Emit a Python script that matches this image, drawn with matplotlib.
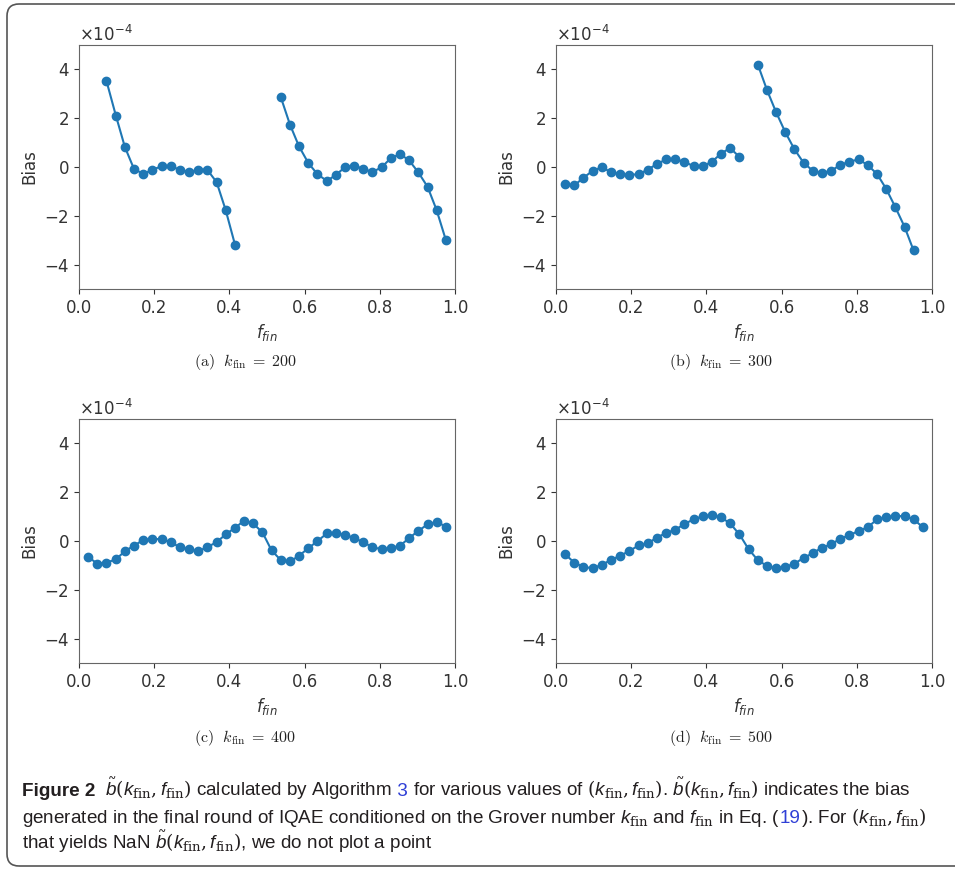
import numpy as np
import matplotlib
matplotlib.use("Agg")
import matplotlib.pyplot as plt
from matplotlib.patches import FancyBboxPatch
from matplotlib.transforms import IdentityTransform

# f_fin grid (NaN bias -> no point drawn)
f_fin = [0.024, 0.049, 0.073, 0.098, 0.122, 0.146, 0.171, 0.195, 0.220, 0.244,
         0.268, 0.293, 0.317, 0.341, 0.366, 0.390, 0.415, 0.439, 0.463, 0.488,
         0.512, 0.537, 0.561, 0.585, 0.610, 0.634, 0.659, 0.683, 0.707, 0.732,
         0.756, 0.780, 0.805, 0.829, 0.854, 0.878, 0.902, 0.927, 0.951, 0.976]

nan = float("nan")
# bias values in units of 1e-4
bias_200 = [nan, nan, 3.53, 2.11, 0.82, -0.07, -0.29, -0.11, 0.03, 0.03,
            -0.11, -0.21, -0.11, -0.11, -0.62, -1.76, -3.19, nan, nan, nan,
            nan, 2.85, 1.74, 0.85, 0.16, -0.29, -0.57, -0.33, -0.01, 0.05,
            -0.07, -0.21, -0.01, 0.36, 0.53, 0.27, -0.21, -0.81, -1.76, -3.01]
bias_300 = [-0.71, -0.75, -0.44, -0.15, -0.01, -0.21, -0.29, -0.33, -0.29, -0.11,
            0.12, 0.31, 0.31, 0.22, 0.03, 0.03, 0.22, 0.55, 0.78, 0.41,
            nan, 4.19, 3.16, 2.26, 1.42, 0.73, 0.16, -0.15, -0.25, -0.15,
            0.08, 0.22, 0.31, 0.08, -0.29, -0.89, -1.63, -2.45, -3.42, nan]
bias_400 = [-0.65, -0.93, -0.89, -0.75, -0.42, -0.19, 0.04, 0.08, 0.08, -0.05,
            -0.25, -0.34, -0.42, -0.25, -0.05, 0.27, 0.54, 0.83, 0.72, 0.35,
            -0.38, -0.79, -0.84, -0.61, -0.29, -0.01, 0.31, 0.31, 0.26, 0.12,
            -0.05, -0.25, -0.34, -0.29, -0.19, 0.12, 0.41, 0.68, 0.78, 0.59]
bias_500 = [-0.54, -0.89, -1.06, -1.12, -0.97, -0.78, -0.60, -0.41, -0.18, -0.10,
            0.14, 0.33, 0.46, 0.69, 0.89, 1.01, 1.05, 0.97, 0.72, 0.27,
            -0.33, -0.79, -1.02, -1.12, -1.06, -0.93, -0.69, -0.50, -0.27, -0.14,
            0.10, 0.23, 0.42, 0.56, 0.89, 0.97, 1.02, 1.02, 0.89, 0.56]

panels = [("a", 200, bias_200), ("b", 300, bias_300),
          ("c", 400, bias_400), ("d", 500, bias_500)]

W, H = 955, 869
fig = plt.figure(figsize=(W / 100, H / 100), dpi=100)

# axes boxes in image pixels: left, top
ax_pos = [(79, 45), (556, 45), (79, 419), (556, 419)]
ax_w, ax_h = 376, 244
sub_pos = [(245, 362), (721, 362), (245, 738), (721, 738)]

for (tag, k, bias), (x0, y0), (sx, sy) in zip(panels, ax_pos, sub_pos):
    ax = fig.add_axes([x0 / W, (H - y0 - ax_h) / H, ax_w / W, ax_h / H])
    ax.plot(f_fin, np.array(bias) * 1e-4, color="#1f77b4", marker="o",
            markersize=6, linewidth=1.5)
    ax.set_xlim(0, 1)
    ax.set_ylim(-5e-4, 5e-4)
    ax.set_yticks([-4e-4, -2e-4, 0, 2e-4, 4e-4])
    ax.ticklabel_format(axis="y", style="sci", scilimits=(0, 0), useMathText=True)
    ax.tick_params(labelsize=12, colors="#333333")
    ax.yaxis.get_offset_text().set_fontsize(12)
    ax.yaxis.get_offset_text().set_color("#333333")
    for sp in ax.spines.values():
        sp.set_color("#666666")
    ax.set_xlabel(r"$f_{fin}$", fontsize=12, color="#333333")
    ax.set_ylabel("Bias", fontsize=12, color="#333333")
    fig.text(sx / W, 1 - sy / H,
             r"$\mathrm{(%s)}\ \ k_{\mathrm{fin}}\;=\;%d$" % (tag, k),
             ha="center", va="center", fontsize=11.5,
             math_fontfamily="cm", color="#222222")

# outer rounded frame
frame = FancyBboxPatch((7, H - 866), 1100, 862,
                       boxstyle="round,pad=0,rounding_size=12",
                       transform=IdentityTransform(), facecolor="none",
                       edgecolor="#555555", linewidth=1.2)
fig.patches.append(frame)

# caption
plt.rcParams["mathtext.fontset"] = "custom"
plt.rcParams["mathtext.it"] = "Liberation Sans:italic"
plt.rcParams["mathtext.rm"] = "DejaVu Serif"
cap_font = ["Liberation Sans", "DejaVu Sans"]
cap_col = "#231f20"
link_col = "#2f3fd6"
bt = r"$\tilde{b}(k_{\mathrm{fin}},f_{\mathrm{fin}})$"
kf = r"$(k_{\mathrm{fin}},f_{\mathrm{fin}})$"

lines = [
    (796, [("Figure 2", cap_col, "bold"), ("  " + bt + " calculated by Algorithm", cap_col, "normal"),
           (" 3", link_col, "normal"),
           (" for various values of " + kf + ". " + bt + " indicates the bias", cap_col, "normal")]),
    (823, [("generated in the final round of IQAE conditioned on the Grover number $k_{\\mathrm{fin}}$ and "
            "$f_{\\mathrm{fin}}$ in Eq. (", cap_col, "normal"), ("19", link_col, "normal"),
           ("). For " + kf, cap_col, "normal")]),
    (849, [("that yields NaN " + bt + ", we do not plot a point", cap_col, "normal")]),
]

renderer = fig.canvas.get_renderer()
for y_img, pieces in lines:
    x = 22
    for s, col, wt in pieces:
        t = fig.text(x, H - y_img, s, transform=IdentityTransform(), fontsize=13.6,
                     family=cap_font, color=col, weight=wt, va="baseline",
                     math_fontfamily="custom")
        x += t.get_window_extent(renderer).width

fig.savefig("out.png", dpi=100)
